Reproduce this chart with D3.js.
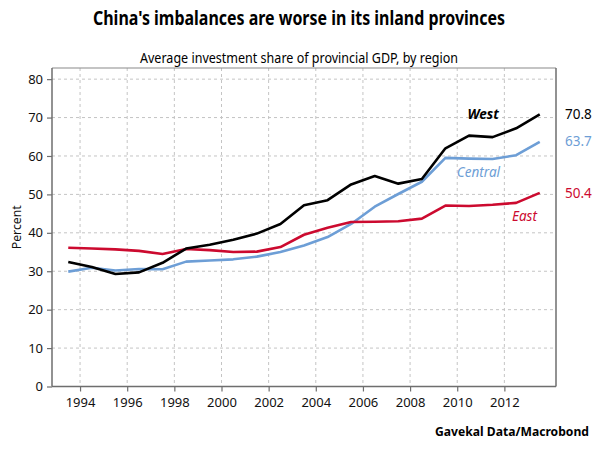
<!DOCTYPE html>
<html>
<head>
<meta charset="utf-8">
<script src="https://cdn.jsdelivr.net/npm/d3@7"></script>
<style>
  html, body { margin: 0; padding: 0; background: #fff; }
  svg { display: block; }
  text { font-family: "Noto Sans", "DejaVu Sans", sans-serif; }
</style>
</head>
<body>
<svg id="chart" width="599" height="449"></svg>
<script>
// ---- data ----
const years = [1993, 1994, 1995, 1996, 1997, 1998, 1999, 2000, 2001, 2002, 2003,
               2004, 2005, 2006, 2007, 2008, 2009, 2010, 2011, 2012, 2013];
const west    = [32.4, 31.1, 29.3, 29.7, 32.2, 35.9, 36.9, 38.2, 39.8, 42.3, 47.2,
                 48.5, 52.6, 54.8, 52.8, 54.0, 62.0, 65.3, 64.9, 67.2, 70.8];
const central = [29.9, 30.9, 30.2, 30.6, 30.5, 32.5, 32.8, 33.1, 33.8, 35.0, 36.7,
                 38.9, 42.3, 46.8, 50.1, 53.3, 59.5, 59.3, 59.2, 60.2, 63.7];
const east    = [36.1, 35.9, 35.7, 35.3, 34.5, 35.8, 35.5, 35.0, 35.1, 36.3, 39.5,
                 41.3, 42.8, 42.9, 43.0, 43.7, 47.1, 47.0, 47.3, 47.8, 50.4];
const seriesNames = ["West", "Central", "East"];
const xTickYears = [1994, 1996, 1998, 2000, 2002, 2004, 2006, 2008, 2010, 2012];
const yTickValues = [0, 10, 20, 30, 40, 50, 60, 70, 80];
const titleText = "China's imbalances are worse in its inland provinces";
const subtitleText = "Average investment share of provincial GDP, by region";
const yAxisLabel = "Percent";
const sourceText = "Gavekal Data/Macrobond";

// ---- layout ----
const svg = d3.select("#chart");
const L = 52, R = 556, T = 68, B = 386.5;
const colors = { West: "#000000", Central: "#6d9ed6", East: "#cc0a2f" };

const x = d3.scaleLinear().domain([1992.81, 2014.19]).range([L, R]);
const y = d3.scaleLinear().domain([0, 82.9]).range([B, T]);

// grid
const grid = svg.append("g");
grid.selectAll(".hg").data(yTickValues).join("line")
  .attr("x1", L).attr("x2", R)
  .attr("y1", d => y(d)).attr("y2", d => y(d))
  .attr("stroke", "#c4c4c4").attr("stroke-width", 1).attr("stroke-dasharray", "3,3");
grid.selectAll(".vg").data(xTickYears).join("line")
  .attr("x1", d => x(d)).attr("x2", d => x(d))
  .attr("y1", T).attr("y2", B)
  .attr("stroke", "#c4c4c4").attr("stroke-width", 1).attr("stroke-dasharray", "3,3");

// frame top/right
svg.append("line").attr("x1", L).attr("x2", R).attr("y1", T).attr("y2", T)
  .attr("stroke", "#8a8a8a").attr("stroke-width", 1.2);
svg.append("line").attr("x1", R).attr("x2", R).attr("y1", T).attr("y2", B)
  .attr("stroke", "#6e6e6e").attr("stroke-width", 1.5);

// axes
const yAxis = svg.append("g").attr("transform", `translate(${L},0)`)
  .call(d3.axisLeft(y).tickValues(yTickValues).tickSize(5).tickPadding(4).tickFormat(d3.format("d")));
const xAxis = svg.append("g").attr("transform", `translate(0,${B})`)
  .call(d3.axisBottom(x).tickValues(xTickYears).tickSize(5).tickPadding(6).tickFormat(d3.format("d")));
[yAxis, xAxis].forEach(g => {
  g.select(".domain").attr("stroke", "#6e6e6e").attr("stroke-width", 1.5);
  g.selectAll(".tick line").attr("stroke", "#6e6e6e").attr("stroke-width", 1.2);
  g.selectAll(".tick text").attr("fill", "#111").style("font-size", "13px")
    .style("font-family", "'Noto Sans', sans-serif");
});
yAxis.select(".domain").attr("d", `M0,${T}V${B}`);
xAxis.select(".domain").attr("d", `M${L},0H${R}`);

// lines
const seriesData = { West: west, Central: central, East: east };
const line = d3.line().x((d, i) => x(years[i] + 0.5)).y(d => y(d));
["Central", "East", "West"].forEach(name => {
  svg.append("path").datum(seriesData[name])
    .attr("d", line).attr("fill", "none")
    .attr("stroke", colors[name]).attr("stroke-width", 2.6)
    .attr("stroke-linejoin", "round");
});

// end value labels
seriesNames.forEach(name => {
  const arr = seriesData[name];
  const v = arr[arr.length - 1];
  svg.append("text").attr("x", 565).attr("y", y(v)).attr("dy", "0.35em")
    .attr("fill", colors[name]).style("font-size", "13.5px").text(d3.format(".1f")(v));
});

// series labels
const seriesLabelPos = { West: [2011.1, 70.8], Central: [2010.9, 55.7], East: [2012.85, 44.4] };
seriesNames.forEach(name => {
  const p = seriesLabelPos[name];
  svg.append("text").attr("x", x(p[0])).attr("y", y(p[1])).attr("dy", "0.35em")
    .attr("fill", colors[name]).attr("text-anchor", "middle")
    .style("font-size", "13.5px").style("font-style", "italic")
    .style("font-weight", name === "West" ? "bold" : "normal").text(name);
});

// titles
svg.append("text").attr("x", 299).attr("y", 25).attr("text-anchor", "middle")
  .style("font-size", "19px").style("font-weight", "bold")
  .attr("textLength", 412).attr("lengthAdjust", "spacingAndGlyphs").text(titleText);
svg.append("text").attr("x", 299).attr("y", 63).attr("text-anchor", "middle")
  .style("font-size", "14px")
  .attr("textLength", 318).attr("lengthAdjust", "spacingAndGlyphs").text(subtitleText);

// y label
svg.append("text").attr("transform", `translate(21,${(T + B) / 2}) rotate(-90)`)
  .attr("text-anchor", "middle").style("font-size", "13px").attr("fill", "#111")
  .attr("textLength", 44).attr("lengthAdjust", "spacingAndGlyphs").text(yAxisLabel);

// source
svg.append("text").attr("x", 589).attr("y", 436).attr("text-anchor", "end")
  .style("font-size", "13px").style("font-weight", "bold")
  .attr("textLength", 154).attr("lengthAdjust", "spacingAndGlyphs").text(sourceText);
</script>
</body>
</html>
